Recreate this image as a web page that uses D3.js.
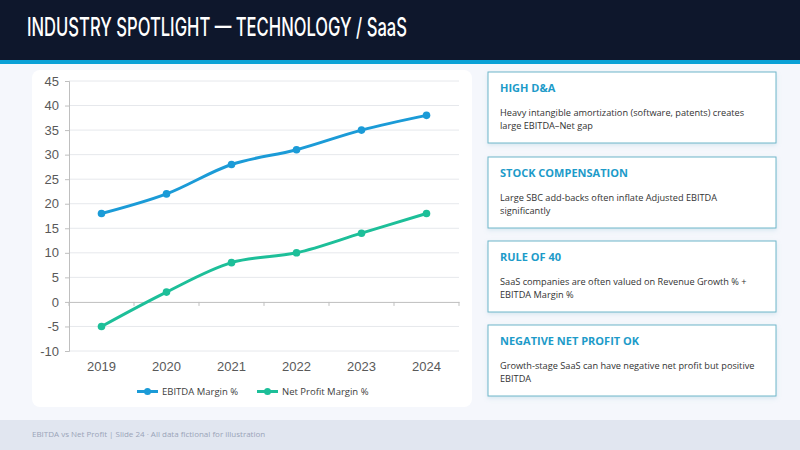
<!DOCTYPE html>
<html>
<head>
<meta charset="utf-8">
<script src="https://cdn.jsdelivr.net/npm/d3@7"></script>
<style>
  body { margin: 0; background: #f5f7fc; }
  svg { display: block; }
</style>
</head>
<body>
<svg id="slide" width="800" height="450"></svg>
<script>
// data
var years = ["2019", "2020", "2021", "2022", "2023", "2024"];
var ebitdaMargin = [18, 22, 28, 31, 35, 38];
var netProfitMargin = [-5, 2, 8, 10, 14, 18];
var yTicks = [45, 40, 35, 30, 25, 20, 15, 10, 5, 0, -5, -10];
var seriesNames = ["EBITDA Margin %", "Net Profit Margin %"];
var seriesColors = ["#1b9bd7", "#1dbf99"];
var cardTitles = ["HIGH D&A", "STOCK COMPENSATION", "RULE OF 40", "NEGATIVE NET PROFIT OK"];
var cardLines = [
  ["Heavy intangible amortization (software, patents) creates", "large EBITDA\u2013Net gap"],
  ["Large SBC add-backs often inflate Adjusted EBITDA", "significantly"],
  ["SaaS companies are often valued on Revenue Growth % +", "EBITDA Margin %"],
  ["Growth-stage SaaS can have negative net profit but positive", "EBITDA"]
];

var svg = d3.select("#slide");

var defs = svg.append("defs");
var shadow = defs.append("filter").attr("id", "shadow")
  .attr("x", "-10%").attr("y", "-10%").attr("width", "120%").attr("height", "130%");
shadow.append("feDropShadow").attr("dx", 0).attr("dy", 2).attr("stdDeviation", 2)
  .attr("flood-color", "#7fb8cc").attr("flood-opacity", 0.25);

// header
svg.append("rect").attr("x", 0).attr("y", 0).attr("width", 800).attr("height", 60).attr("fill", "#0e172c");
svg.append("rect").attr("x", 0).attr("y", 60).attr("width", 800).attr("height", 4).attr("fill", "#0aa1d6");
svg.append("text").attr("x", 27).attr("y", 36)
  .attr("fill", "#ffffff").attr("font-family", "'Liberation Sans Narrow', Inter, sans-serif").attr("font-size", 25)
  .attr("font-weight", 500)
  .attr("textLength", 380).attr("lengthAdjust", "spacingAndGlyphs")
  .text("INDUSTRY SPOTLIGHT \u2014 TECHNOLOGY / SaaS");

// footer
svg.append("rect").attr("x", 0).attr("y", 420).attr("width", 800).attr("height", 30).attr("fill", "#e1e6f0");
svg.append("text").attr("x", 32).attr("y", 437)
  .attr("fill", "#9aa4b8").attr("font-family", "'Open Sans', sans-serif").attr("font-size", 8)
  .text("EBITDA vs Net Profit  |  Slide 24  \u00b7  All data fictional for illustration");

// chart card
svg.append("rect").attr("x", 32).attr("y", 70).attr("width", 440).attr("height", 337)
  .attr("rx", 8).attr("fill", "#ffffff");

var plot = { left: 69, right: 459, top: 81, bottom: 351 };

var x = d3.scaleBand().domain(years).range([plot.left, plot.right]);
var y = d3.scaleLinear().domain([-10, 45]).range([plot.bottom, plot.top]);

var g = svg.append("g");

// gridlines
g.selectAll(".grid").data(yTicks.filter(function(d) { return d !== 0; }))
  .enter().append("line")
  .attr("x1", plot.left).attr("x2", plot.right)
  .attr("y1", function(d) { return y(d); }).attr("y2", function(d) { return y(d); })
  .attr("stroke", "#e6e8ec").attr("stroke-width", 1);

// y axis
var yAxis = g.append("g").attr("transform", "translate(" + plot.left + ",0)")
  .call(d3.axisLeft(y).tickValues(yTicks).tickSize(4).tickPadding(6)
    .tickFormat(function(d) { return String(d); }));
yAxis.select(".domain").attr("stroke", "#bfbfbf");
yAxis.selectAll(".tick line").attr("stroke", "#bfbfbf");
yAxis.selectAll("text").attr("fill", "#595959").attr("font-size", 13)
  .attr("font-family", "'Liberation Sans', Arial, sans-serif");

// x axis on zero line
var xAxis = g.append("g").attr("transform", "translate(0," + y(0) + ")")
  .call(d3.axisBottom(x).tickSize(0).tickFormat(""));
xAxis.select(".domain").attr("stroke", "#bfbfbf");
g.selectAll(".xtick").data(d3.range(years.length + 1))
  .enter().append("line")
  .attr("x1", function(i) { return plot.left + i * x.step(); })
  .attr("x2", function(i) { return plot.left + i * x.step(); })
  .attr("y1", y(0)).attr("y2", y(0) + 4)
  .attr("stroke", "#bfbfbf");

g.selectAll(".xlabel").data(years).enter().append("text")
  .attr("x", function(d) { return x(d) + x.bandwidth() / 2; })
  .attr("y", 371)
  .attr("text-anchor", "middle")
  .attr("fill", "#595959").attr("font-size", 13)
  .attr("font-family", "'Liberation Sans', Arial, sans-serif")
  .text(function(d) { return d; });

// lines
var line = d3.line()
  .x(function(d, i) { return x(years[i]) + x.bandwidth() / 2; })
  .y(function(d) { return y(d); })
  .curve(d3.curveCatmullRom.alpha(0.5));

[ebitdaMargin, netProfitMargin].forEach(function(vals, s) {
  g.append("path").datum(vals)
    .attr("d", line)
    .attr("fill", "none")
    .attr("stroke", seriesColors[s])
    .attr("stroke-width", 3)
    .attr("stroke-linecap", "round");
  g.selectAll(".pt" + s).data(vals).enter().append("circle")
    .attr("cx", function(d, i) { return x(years[i]) + x.bandwidth() / 2; })
    .attr("cy", function(d) { return y(d); })
    .attr("r", 3.8)
    .attr("fill", seriesColors[s]);
});

// legend
var legendX = [137, 257];
seriesNames.forEach(function(name, s) {
  var lg = g.append("g").attr("transform", "translate(" + legendX[s] + ",391.5)");
  lg.append("line").attr("x1", 0).attr("x2", 21).attr("y1", 0).attr("y2", 0)
    .attr("stroke", seriesColors[s]).attr("stroke-width", 3);
  lg.append("circle").attr("cx", 10.5).attr("cy", 0).attr("r", 3.5).attr("fill", seriesColors[s]);
  lg.append("text").attr("x", 25).attr("y", 3.5)
    .attr("fill", "#404040").attr("font-size", 9.5)
    .attr("font-family", "'Open Sans', sans-serif")
    .text(name);
});

// cards
var cardTop = [72, 157, 241, 325];
var cards = svg.selectAll(".card").data(cardTitles).enter().append("g")
  .attr("transform", function(d, i) { return "translate(488," + cardTop[i] + ")"; });
cards.append("rect").attr("width", 288).attr("height", 71)
  .attr("fill", "#ffffff").attr("stroke", "#6fb6c9").attr("stroke-width", 1)
  .attr("filter", "url(#shadow)");
cards.append("text").attr("x", 12).attr("y", 20)
  .attr("fill", "#1d9bc9").attr("font-size", 11).attr("font-weight", 700)
  .attr("font-family", "'Open Sans', sans-serif")
  .text(function(d) { return d; });
cards.each(function(d, i) {
  var t = d3.select(this).append("text")
    .attr("fill", "#333333").attr("font-size", 9.2)
    .attr("font-family", "'Open Sans', sans-serif");
  cardLines[i].forEach(function(l, j) {
    t.append("tspan").attr("x", 12).attr("y", 44 + j * 12.5).text(l);
  });
});
</script>
</body>
</html>
